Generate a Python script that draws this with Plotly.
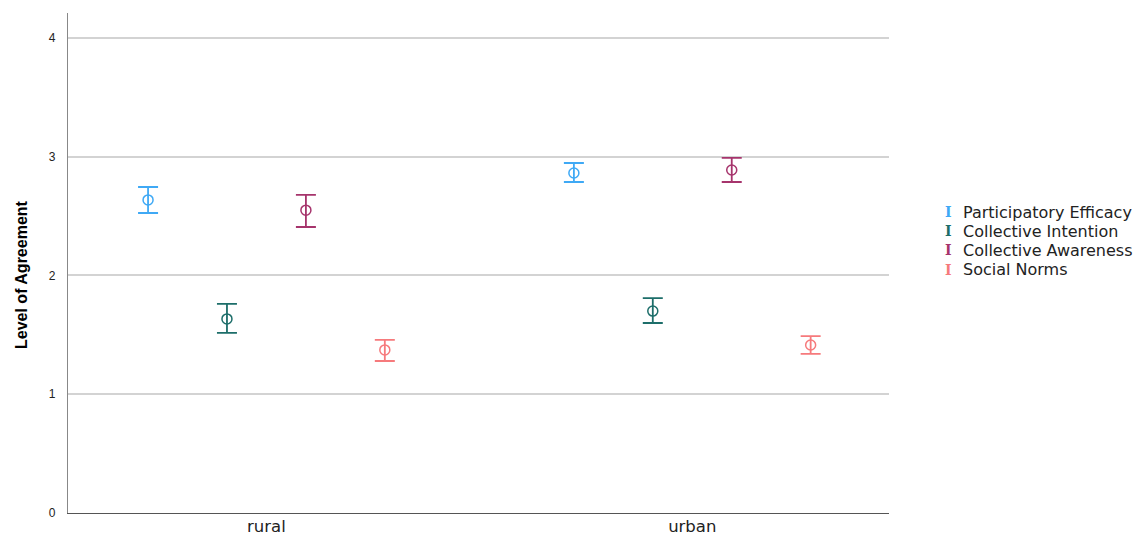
import plotly.graph_objects as go

categories = ["rural", "urban"]
series = ["Participatory Efficacy", "Collective Intention", "Collective Awareness", "Social Norms"]
colors = ["#3fa9f5", "#1d6e6a", "#a6346c", "#f67a7c"]
means = {
    "Participatory Efficacy": [2.636, 2.863],
    "Collective Intention": [1.634, 1.700],
    "Collective Awareness": [2.550, 2.888],
    "Social Norms": [1.373, 1.415],
}
upper = {
    "Participatory Efficacy": [2.745, 2.947],
    "Collective Intention": [1.760, 1.810],
    "Collective Awareness": [2.678, 2.990],
    "Social Norms": [1.457, 1.490],
}
lower = {
    "Participatory Efficacy": [2.526, 2.787],
    "Collective Intention": [1.516, 1.600],
    "Collective Awareness": [2.408, 2.787],
    "Social Norms": [1.280, 1.339],
}
y_ticks = [0, 1, 2, 3, 4]

offsets = [-0.278, -0.0927, 0.0927, 0.278]

fig = go.Figure()
for i, s in enumerate(series):
    xs = [ci + offsets[i] for ci in range(len(categories))]
    m = means[s]
    fig.add_trace(go.Scatter(
        x=xs, y=m, mode="markers", name=s, showlegend=False,
        marker=dict(symbol="circle-open", size=10, color=colors[i], line=dict(width=1.5, color=colors[i])),
        error_y=dict(type="data", symmetric=False,
                     array=[u - v for u, v in zip(upper[s], m)],
                     arrayminus=[v - l for v, l in zip(m, lower[s])],
                     color=colors[i], thickness=1.8, width=10),
    ))

PL, PR, PT, PB = 68, 889, 13, 513

def px(x):
    return (x - PL) / (PR - PL)

def py(y):
    return (PB - y) / (PB - PT)

# legend built from annotations
for i, s in enumerate(series):
    yy = 212 + i * 19.2
    fig.add_annotation(xref="paper", yref="paper", x=px(948), y=py(yy),
                       text="<b>I</b>", showarrow=False, xanchor="center", yanchor="middle",
                       font=dict(family="DejaVu Serif", size=14, color=colors[i]))
    fig.add_annotation(xref="paper", yref="paper", x=px(961), y=py(yy),
                       text=s, showarrow=False, xanchor="left", yanchor="middle",
                       font=dict(family="DejaVu Sans", size=16, color="#222"))

fig.add_annotation(xref="paper", yref="paper", x=px(21), y=py(275),
                   text="<b>Level of Agreement</b>", textangle=-90, showarrow=False,
                   xanchor="center", yanchor="middle",
                   font=dict(family="Liberation Sans Narrow, Arial Narrow, Liberation Sans, Arial", size=16, color="#000"))

fig.update_layout(
    width=1138, height=539,
    margin=dict(l=PL, r=1138 - PR, t=PT, b=539 - PB),
    plot_bgcolor="white", paper_bgcolor="white",
    showlegend=False,
    xaxis=dict(range=[-0.466, 1.462], tickvals=[0, 1], ticktext=categories,
               showgrid=False, zeroline=False, showline=True, linecolor="#555", linewidth=1.3,
               ticks="", ticklabelstandoff=-2, automargin=False,
               tickfont=dict(family="DejaVu Sans", size=16.5, color="#222")),
    yaxis=dict(range=[0, 4.21], tickvals=y_ticks, ticktext=[str(t) for t in y_ticks],
               showgrid=True, gridcolor="#d3d3d3", gridwidth=1.5, zeroline=False,
               showline=True, linecolor="#888", linewidth=1.3, ticks="", ticklabelstandoff=9,
               automargin=False,
               tickfont=dict(family="Arial, Liberation Sans", size=12, color="#222")),
)

fig.write_html("out.html")
